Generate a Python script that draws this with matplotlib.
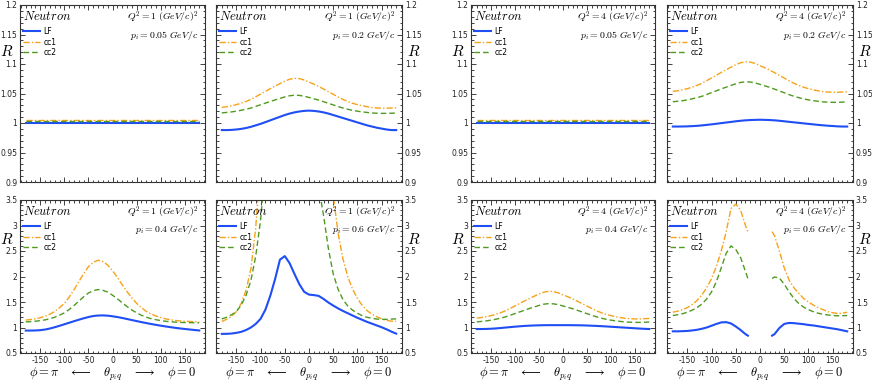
import matplotlib
matplotlib.use("Agg")
import matplotlib.pyplot as plt
from matplotlib.ticker import MultipleLocator, FuncFormatter

plt.rcParams['mathtext.fontset'] = 'cm'
plt.rcParams['font.family'] = ['DejaVu Sans']

# --- data ---
X = [-180, -170, -160, -150, -140, -130, -120, -110, -100, -90, -80, -70, -60, -50,
     -40, -30, -20, -10, 0, 10, 20, 30, 40, 50, 60, 70, 80, 90, 100, 110, 120, 130,
     140, 150, 160, 170, 180]
X_FLAT = [-180, 180]
X_HL = [-180, -170, -160, -150, -140, -130, -120, -110, -100, -90, -80, -70, -60, -50, -40, -30, -25]
X_HR = [25, 30, 40, 50, 60, 70, 80, 90, 100, 110, 120, 130, 140, 150, 160, 170, 180]

# Q^2 = 1, p = 0.05
LF_A = [0.9995, 0.9995]
CC1_A = [1.0055, 1.0055]
CC2_A = [1.003, 1.003]

# Q^2 = 1, p = 0.2
LF_B = [0.988, 0.988, 0.9883, 0.989, 0.990, 0.9915, 0.9935, 0.996, 0.9985, 1.0015, 1.0045,
        1.0075, 1.0105, 1.0135, 1.016, 1.018, 1.0195, 1.0205, 1.021, 1.0205, 1.0195, 1.018,
        1.016, 1.0135, 1.011, 1.0085, 1.006, 1.0035, 1.001, 0.9985, 0.996, 0.994, 0.992,
        0.9905, 0.989, 0.988, 0.988]
CC1_B = [1.0265, 1.0276, 1.0291, 1.0311, 1.0337, 1.0365, 1.0400, 1.0444, 1.0490, 1.0536,
         1.0582, 1.0625, 1.0668, 1.0709, 1.0742, 1.0757, 1.0752, 1.0729, 1.0694, 1.0658,
         1.0620, 1.0576, 1.0531, 1.0487, 1.0441, 1.0400, 1.0365, 1.0334, 1.0311, 1.0291,
         1.0276, 1.0260, 1.0255, 1.025, 1.025, 1.0255, 1.026]
CC2_B = [1.0172, 1.0179, 1.0188, 1.0200, 1.0216, 1.0233, 1.0254, 1.0281, 1.0309, 1.0337,
         1.0365, 1.0391, 1.0417, 1.0442, 1.0462, 1.0471, 1.0468, 1.0454, 1.0433, 1.0411,
         1.0388, 1.0361, 1.0334, 1.0307, 1.0279, 1.0254, 1.0233, 1.0214, 1.0200, 1.0188,
         1.0179, 1.0169, 1.0166, 1.0163, 1.0163, 1.0166, 1.0169]

# Q^2 = 1, p = 0.4
LF_C = [0.94, 0.94, 0.942, 0.948, 0.96, 0.98, 1.005, 1.033, 1.063, 1.093, 1.123, 1.152, 1.18,
        1.205, 1.225, 1.235, 1.237, 1.232, 1.22, 1.205, 1.187, 1.167, 1.146, 1.126, 1.106,
        1.087, 1.069, 1.052, 1.036, 1.021, 1.007, 0.994, 0.982, 0.971, 0.961, 0.951, 0.942]
CC1_C = [1.146, 1.156, 1.171, 1.192, 1.219, 1.261, 1.316, 1.388, 1.473, 1.594, 1.739, 1.897,
         2.054, 2.193, 2.276, 2.319, 2.291, 2.226, 2.114, 1.984, 1.841, 1.705, 1.582, 1.475,
         1.387, 1.317, 1.265, 1.226, 1.195, 1.169, 1.152, 1.139, 1.129, 1.123, 1.118, 1.115,
         1.111]
CC2_C = [1.11, 1.115, 1.123, 1.135, 1.149, 1.172, 1.201, 1.241, 1.287, 1.352, 1.431, 1.516,
         1.601, 1.676, 1.721, 1.744, 1.729, 1.694, 1.634, 1.563, 1.486, 1.412, 1.345, 1.288,
         1.24, 1.202, 1.174, 1.153, 1.136, 1.122, 1.113, 1.106, 1.10, 1.097, 1.095, 1.093,
         1.091]

# Q^2 = 1, p = 0.6
LF_D = [0.875, 0.876, 0.882, 0.895, 0.915, 0.95, 1.0, 1.07, 1.17, 1.35, 1.62, 1.95, 2.33,
        2.40, 2.26, 2.05, 1.85, 1.70, 1.645, 1.635, 1.62, 1.56, 1.49, 1.43, 1.375, 1.325,
        1.28, 1.235, 1.19, 1.15, 1.11, 1.075, 1.04, 1.005, 0.965, 0.92, 0.88]
CC1_D = [1.12, 1.16, 1.22, 1.31, 1.47, 1.73, 2.15, 2.95, 4.3, 6.0, 8.0, 10.0, 11.0, 12.0,
         12.0, 11.5, 10.5, 9.0, 7.5, 6.2, 5.6, 4.8, 4.15, 3.6, 2.85, 2.35, 2.0, 1.75, 1.57,
         1.43, 1.33, 1.26, 1.21, 1.17, 1.14, 1.125, 1.12]
CC2_D = [1.17, 1.2, 1.25, 1.31, 1.44, 1.63, 1.92, 2.4, 3.1, 4.2, 5.5, 6.5, 7.2, 7.5, 7.4,
         7.0, 6.2, 5.3, 4.6, 4.0, 3.75, 3.2, 2.55, 2.05, 1.75, 1.55, 1.42, 1.34, 1.28, 1.23,
         1.2, 1.18, 1.165, 1.16, 1.16, 1.165, 1.17]

# Q^2 = 4, p = 0.05
LF_E = [0.9995, 0.9995]
CC1_E = [1.0055, 1.0055]
CC2_E = [1.0038, 1.0038]

# Q^2 = 4, p = 0.2
LF_F = [0.994, 0.994, 0.9941, 0.9943, 0.9947, 0.9952, 0.9959, 0.9968, 0.9977, 0.9987,
        0.9998, 1.0008, 1.0018, 1.0029, 1.0038, 1.0045, 1.005, 1.0053, 1.0055, 1.0053,
        1.005, 1.0045, 1.0038, 1.0029, 1.002, 1.0011, 1.0003, 0.9994, 0.9985, 0.9977,
        0.9968, 0.9961, 0.9954, 0.9949, 0.9943, 0.994, 0.994]
CC1_F = [1.0536, 1.0546, 1.0562, 1.0582, 1.0608, 1.0637, 1.0673, 1.0718, 1.0764, 1.0811,
         1.0858, 1.0902, 1.0946, 1.0988, 1.1022, 1.1037, 1.1032, 1.1009, 1.0972, 1.0936,
         1.0897, 1.0853, 1.0806, 1.0762, 1.0715, 1.0673, 1.0637, 1.0606, 1.0582, 1.0562,
         1.0546, 1.053, 1.0525, 1.052, 1.052, 1.0525, 1.053]
CC2_F = [1.0361, 1.0368, 1.0378, 1.0392, 1.041, 1.0429, 1.0453, 1.0483, 1.0515, 1.0546,
         1.0578, 1.0607, 1.0637, 1.0665, 1.0688, 1.0698, 1.0695, 1.0679, 1.0655, 1.063,
         1.0604, 1.0574, 1.0543, 1.0513, 1.0481, 1.0453, 1.0429, 1.0408, 1.0392, 1.0378,
         1.0368, 1.0357, 1.0354, 1.035, 1.035, 1.0354, 1.0357]

# Q^2 = 4, p = 0.4
LF_G = [0.97, 0.97, 0.972, 0.976, 0.982, 0.99, 0.999, 1.008, 1.016, 1.024, 1.031, 1.036,
        1.04, 1.043, 1.045, 1.046, 1.046, 1.046, 1.046, 1.046, 1.045, 1.044, 1.042, 1.039,
        1.035, 1.031, 1.026, 1.021, 1.015, 1.009, 1.003, 0.997, 0.991, 0.985, 0.979, 0.974,
        0.97]
CC1_G = [1.184, 1.195, 1.212, 1.233, 1.26, 1.29, 1.328, 1.375, 1.424, 1.473, 1.522, 1.568,
         1.614, 1.658, 1.693, 1.709, 1.704, 1.679, 1.641, 1.603, 1.562, 1.516, 1.467, 1.421,
         1.372, 1.328, 1.29, 1.258, 1.233, 1.212, 1.195, 1.179, 1.173, 1.168, 1.168, 1.173,
         1.179]
CC2_G = [1.111, 1.119, 1.13, 1.144, 1.163, 1.183, 1.209, 1.241, 1.274, 1.307, 1.34, 1.372,
         1.403, 1.433, 1.457, 1.468, 1.464, 1.448, 1.422, 1.396, 1.368, 1.337, 1.304, 1.272,
         1.239, 1.209, 1.183, 1.161, 1.144, 1.13, 1.119, 1.107, 1.104, 1.10, 1.10, 1.104,
         1.107]

# Q^2 = 4, p = 0.6 (no points around theta = 0)
LF_HL = [0.925, 0.925, 0.928, 0.933, 0.942, 0.955, 0.975, 1.0, 1.035, 1.07, 1.1, 1.105, 1.08,
         1.02, 0.95, 0.87, 0.84]
LF_HR = [0.84, 0.87, 0.99, 1.07, 1.09, 1.085, 1.075, 1.065, 1.05, 1.04, 1.025, 1.01, 0.995,
         0.98, 0.965, 0.945, 0.925]
CC1_HL = [1.30, 1.32, 1.35, 1.39, 1.45, 1.53, 1.64, 1.78, 1.96, 2.2, 2.5, 2.87, 3.33, 3.42,
          3.3, 3.0, 2.87]
CC1_HR = [2.88, 2.8, 2.5, 2.17, 1.93, 1.78, 1.67, 1.57, 1.5, 1.44, 1.39, 1.35, 1.31, 1.29,
          1.275, 1.28, 1.3]
CC2_HL = [1.235, 1.25, 1.27, 1.3, 1.34, 1.39, 1.46, 1.56, 1.7, 1.9, 2.17, 2.45, 2.6, 2.53,
          2.37, 2.1, 1.96]
CC2_HR = [1.96, 1.99, 1.97, 1.85, 1.7, 1.57, 1.47, 1.4, 1.35, 1.31, 1.28, 1.26, 1.245, 1.235,
          1.23, 1.23, 1.235]

Q2_LABELS = ['1', '4']
P_LABELS = ['0.05', '0.2', '0.4', '0.6']

C_LF = '#1f4ef5'
C_CC1 = '#f7a21b'
C_CC2 = '#4f9a1f'
DASH_CC1 = (4.5, 1.5, 1, 1.5)
DASH_CC2 = (4, 2.2)

W, H = 872, 382
fig = plt.figure(figsize=(W / 100, H / 100), dpi=100)


def px_axes(x0, x1, y0, y1):
    # axes from pixel box (y counted from the top)
    return fig.add_axes([x0 / W, 1 - y1 / H, (x1 - x0) / W, (y1 - y0) / H])


cols = [(20, 205), (216, 402), (471, 655), (667, 853)]
rows = [(5, 182), (200, 353)]

# (col, row, q2, p, list of branches: (x, lf, cc1, cc2))
panels = [
    (0, 0, 0, 0, [(X_FLAT, LF_A, CC1_A, CC2_A)]),
    (1, 0, 0, 1, [(X, LF_B, CC1_B, CC2_B)]),
    (0, 1, 0, 2, [(X, LF_C, CC1_C, CC2_C)]),
    (1, 1, 0, 3, [(X, LF_D, CC1_D, CC2_D)]),
    (2, 0, 1, 0, [(X_FLAT, LF_E, CC1_E, CC2_E)]),
    (3, 0, 1, 1, [(X, LF_F, CC1_F, CC2_F)]),
    (2, 1, 1, 2, [(X, LF_G, CC1_G, CC2_G)]),
    (3, 1, 1, 3, [(X_HL, LF_HL, CC1_HL, CC2_HL), (X_HR, LF_HR, CC1_HR, CC2_HR)]),
]

fmt = FuncFormatter(lambda v, p: f'{v:g}')

for col, row, iq, ip, branches in panels:
    (x0, x1), (y0, y1) = cols[col], rows[row]
    ax = px_axes(x0, x1, y0, y1)
    hgt = y1 - y0

    for k, (xs, lf, cc1, cc2) in enumerate(branches):
        lab = (k == 0)
        ax.plot(xs, lf, color=C_LF, lw=1.5, label='LF' if lab else None)
        ax.plot(xs, cc1, color=C_CC1, lw=1.0, dashes=DASH_CC1, label='cc1' if lab else None)
        ax.plot(xs, cc2, color=C_CC2, lw=1.0, dashes=DASH_CC2, label='cc2' if lab else None)

    ax.set_xlim(-192, 192)
    ax.xaxis.set_major_locator(MultipleLocator(50))
    ax.xaxis.set_minor_locator(MultipleLocator(10))
    ax.xaxis.set_major_formatter(fmt)
    if row == 0:
        ax.set_ylim(0.9, 1.2)
        ax.yaxis.set_major_locator(MultipleLocator(0.05))
        ax.yaxis.set_minor_locator(MultipleLocator(0.01))
    else:
        ax.set_ylim(0.5, 3.5)
        ax.yaxis.set_major_locator(MultipleLocator(0.5))
        ax.yaxis.set_minor_locator(MultipleLocator(0.1))
    ax.yaxis.set_major_formatter(fmt)

    right = col in (1, 3)
    ax.tick_params(which='both', direction='in', top=True, bottom=True, left=True, right=True,
                   labelsize=5.5, pad=2, width=0.6, colors='#222222')
    ax.tick_params(which='major', length=3.5)
    ax.tick_params(which='minor', length=1.8)
    ax.tick_params(labelbottom=(row == 1), labelleft=not right, labelright=right)
    for s in ax.spines.values():
        s.set_linewidth(0.8)
        s.set_color('#333333')

    # R label
    ry = 1 - 46 / 177 if row == 0 else 1 - 40 / 153
    rx = 1 + 12 / (x1 - x0) if right else -13 / (x1 - x0)
    ax.text(rx, ry, r'$R$', transform=ax.transAxes, fontsize=11, ha='center', va='center')

    top = 1 - 5 / hgt
    ax.text(0.015, top, r'$Neutron$', transform=ax.transAxes, fontsize=9,
            ha='left', va='top')
    ax.text(0.965, 1 - 4 / hgt, r'$Q^2 = %s\ (GeV/c)^2$' % Q2_LABELS[iq], transform=ax.transAxes,
            fontsize=7, ha='right', va='top')
    ax.text(0.965, 1 - 30 / hgt, r'$p_i = %s\ GeV/c$' % P_LABELS[ip], transform=ax.transAxes,
            fontsize=7, ha='right', va='center')

    ax.legend(loc='upper left', bbox_to_anchor=(0.0, 1 - 19 / hgt), frameon=False,
              fontsize=5.5, handlelength=2.2, handletextpad=0.5, labelspacing=0.2,
              borderpad=0.2, borderaxespad=0.2)

    if row == 1:
        ax.set_xlabel(r'$\phi = \pi\quad\longleftarrow\quad\theta_{p_i q}\quad\longrightarrow\quad\phi = 0$',
                      fontsize=9, labelpad=1)

fig.savefig('out.png', dpi=100)
